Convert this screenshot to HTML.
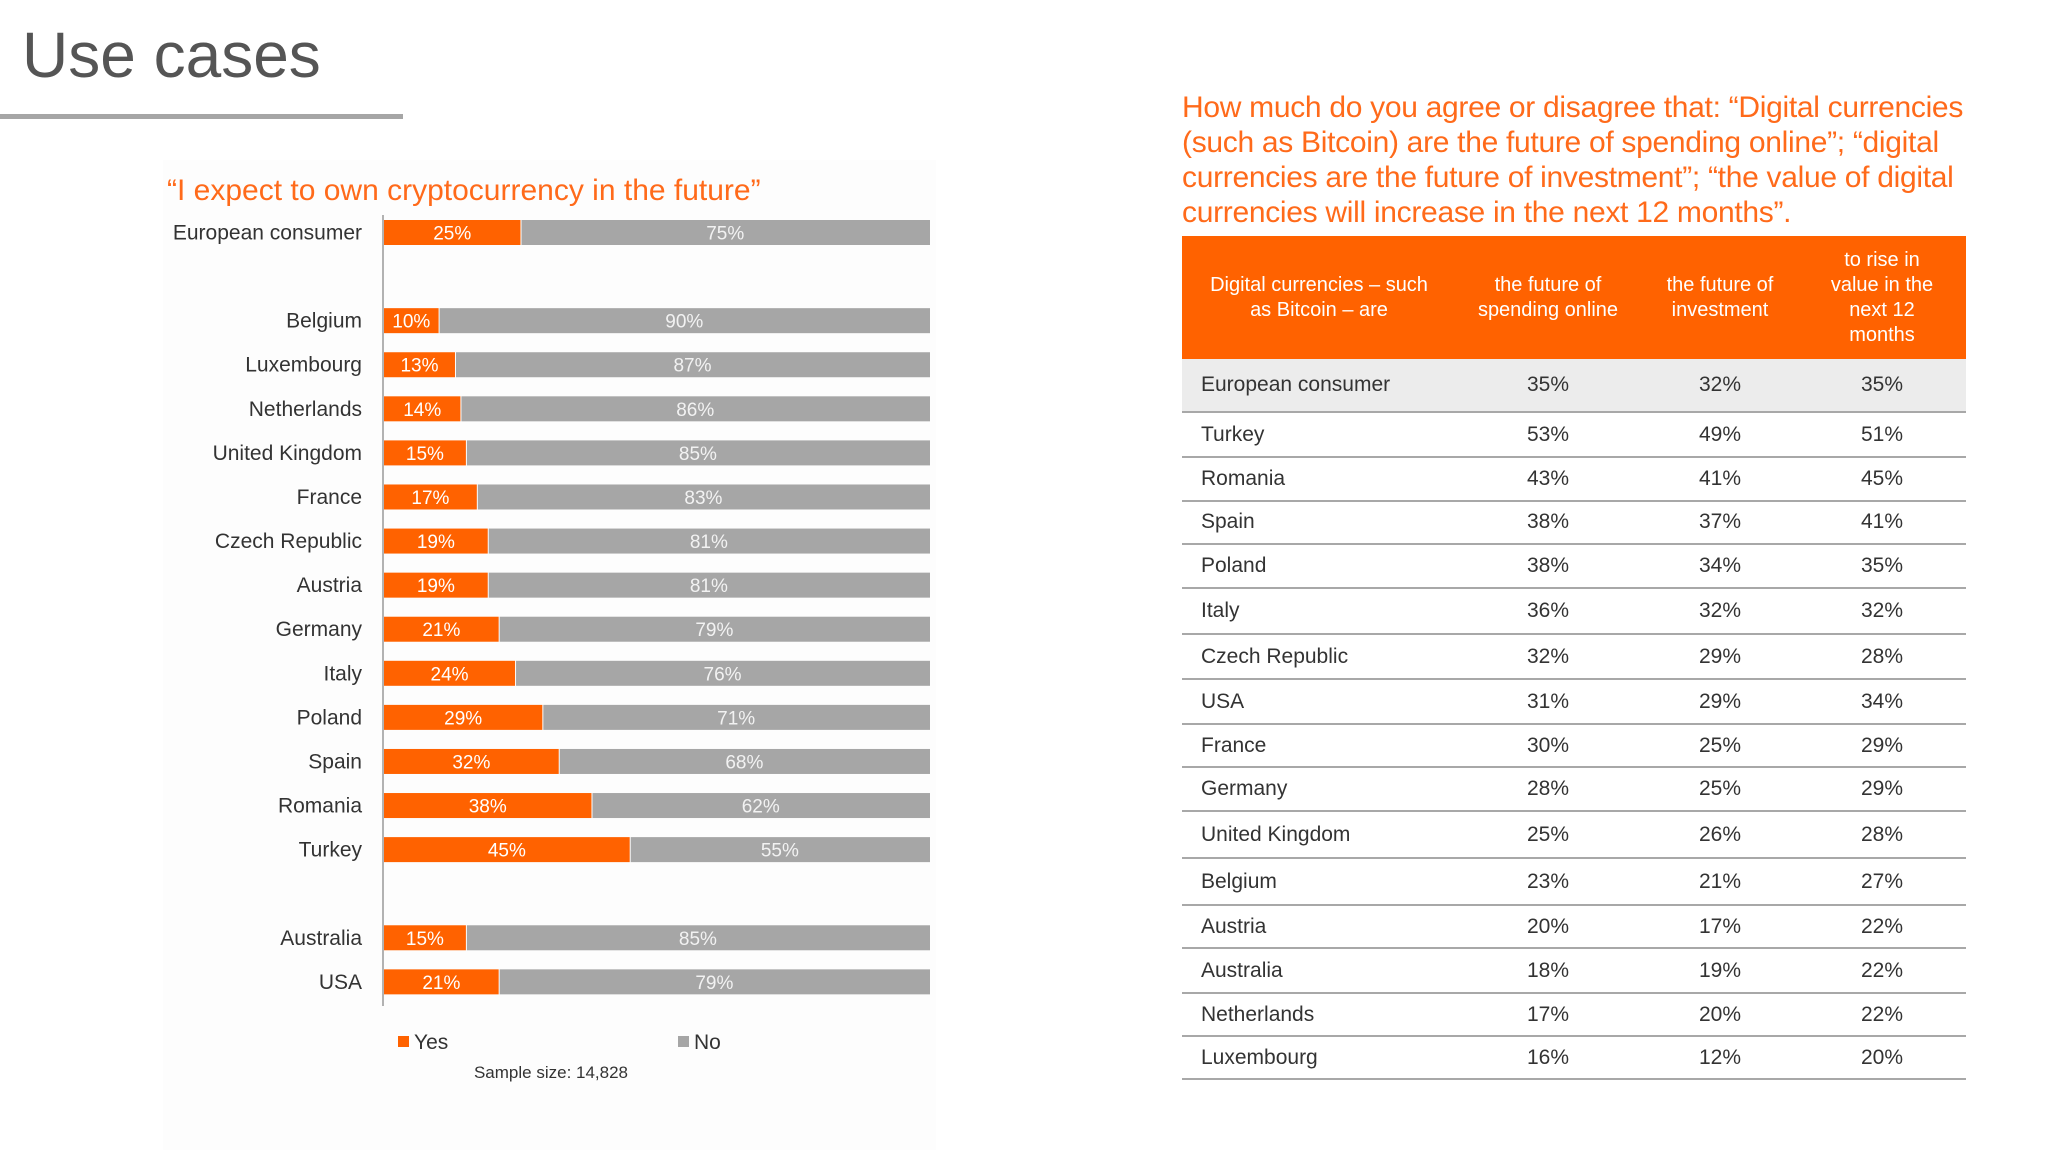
<!DOCTYPE html>
<html><head><meta charset="utf-8"><style>
body{margin:0;width:2048px;height:1152px;background:#fff;position:relative;overflow:hidden;font-family:"Liberation Sans Narrow","Liberation Sans",sans-serif;}
.abs{position:absolute;}
#tbl{position:absolute;left:1182px;top:236px;width:784px;}
.hdr{position:absolute;left:0;top:0;width:784px;height:123px;background:#ff6200;}
.hc{position:absolute;top:0;height:123px;display:flex;align-items:center;justify-content:center;text-align:center;color:#fff;font-size:20px;line-height:25px;}
.row{position:absolute;left:0;width:784px;border-bottom:2px solid #a8a8a8;box-sizing:border-box;font-size:21px;color:#333;}
.row span{position:absolute;top:50%;transform:translateY(-50%);}
</style></head><body>
<div class="abs" style="left:22px;top:18px;font-size:64px;color:#555;font-family:'Liberation Sans',sans-serif;">Use cases</div>
<div class="abs" style="left:0;top:114px;width:403px;height:5px;background:#a6a6a6;"></div>
<div class="abs" style="left:163px;top:160px;width:773px;height:990px;background:#fdfdfd;"></div>
<svg class="abs" style="left:0;top:0" width="2048" height="1152">
<text x="167" y="200" font-size="30" fill="#ff6a1a" font-family="Liberation Sans Narrow, Liberation Sans, sans-serif">“I expect to own cryptocurrency in the future”</text>
<g id="bars"></g>
<rect x="398" y="1036" width="11" height="11" fill="#ff6200"/>
<text x="414" y="1049" font-size="21" fill="#333">Yes</text>
<rect x="678" y="1036" width="11" height="11" fill="#a6a6a6"/>
<text x="694" y="1049" font-size="21" fill="#333">No</text>
<text x="551" y="1078" font-size="17" fill="#333" text-anchor="middle">Sample size: 14,828</text>
</svg>
<div class="abs" style="left:1182px;top:90px;width:820px;font-size:30px;line-height:35px;color:#ff6a1a;letter-spacing:-0.3px;">How much do you agree or disagree that: “Digital currencies (such as Bitcoin) are the future of spending online”; “digital currencies are the future of investment”; “the value of digital currencies will increase in the next 12 months”.</div>
<div id="tbl">
<div class="hdr">
<div class="hc" style="left:0;width:274px;">Digital currencies – such<br>as Bitcoin – are</div>
<div class="hc" style="left:290px;width:152px;">the future of<br>spending online</div>
<div class="hc" style="left:465px;width:146px;">the future of<br>investment</div>
<div class="hc" style="left:635px;width:130px;">to rise in<br>value in the<br>next 12<br>months</div>
</div>
</div>
<script>
const categories=["European consumer","","Belgium","Luxembourg","Netherlands","United Kingdom","France","Czech Republic","Austria","Germany","Italy","Poland","Spain","Romania","Turkey","","Australia","USA"];
const yesValues=[25,null,10,13,14,15,17,19,19,21,24,29,32,38,45,null,15,21];
const noValues=[75,null,90,87,86,85,83,81,81,79,76,71,68,62,55,null,85,79];
const x0=384,x1=930;
function xs(v){return x0+(x1-x0)*v/100;}
function ys(i){return 232.5+i*44.08;}
const NS="http://www.w3.org/2000/svg";
const g=document.getElementById('bars');
function mk(t,a){const e=document.createElementNS(NS,t);for(const k in a)e.setAttribute(k,a[k]);g.appendChild(e);return e;}
const ax=mk('line',{x1:383,x2:383,y1:215,y2:1006,stroke:'#999','stroke-width':1.5});


categories.forEach((c,i)=>{
 if(yesValues[i]==null)return;
 const y=ys(i);
 const lb=mk('text',{x:362,y:y+7,'font-size':21,fill:'#333','text-anchor':'end'});lb.textContent=c;
 
 
 const ya=yesValues[i],na=noValues[i];
 const r1=mk('rect',{x:xs(0),y:y-12.5,width:xs(ya)-xs(0),height:25,fill:'#ff6200'});
 
 
 const r2=mk('rect',{x:xs(ya)+1,y:y-12.5,width:xs(ya+na)-xs(ya)-1,height:25,fill:'#a6a6a6'});
 
 
 const t1=mk('text',{x:(xs(0)+xs(ya))/2,y:y+7,'font-size':19,fill:'#fff','text-anchor':'middle'});t1.textContent=ya+'%';
 
 
 const t2=mk('text',{x:(xs(ya)+xs(ya+na))/2,y:y+7,'font-size':19,fill:'#f2f2f2','text-anchor':'middle'});t2.textContent=na+'%';
 
 
});
const rowNames=["European consumer","Turkey","Romania","Spain","Poland","Italy","Czech Republic","USA","France","Germany","United Kingdom","Belgium","Austria","Australia","Netherlands","Luxembourg"];
const colSpending=[35,53,43,38,38,36,32,31,30,28,25,23,20,18,17,16];
const colInvestment=[32,49,41,37,34,32,29,29,25,25,26,21,17,19,20,12];
const colRise=[35,51,45,41,35,32,28,34,29,29,28,27,22,22,22,20];
const bounds=[359,413,458,501.5,545,589,635,680,725,768,812,859,906,949,994,1037,1080];
const tbl=document.getElementById('tbl');
rowNames.forEach((n,i)=>{
 const r=document.createElement('div');r.className='row';
 
 
 r.style.top=(bounds[i]-236)+'px';r.style.height=(bounds[i+1]-bounds[i])+'px';
 if(i==0)r.style.background='#ececec';
 r.innerHTML='<span style="left:19px">'+n+'</span><span style="left:366px;transform:translate(-50%,-50%)">'+colSpending[i]+'%</span><span style="left:538px;transform:translate(-50%,-50%)">'+colInvestment[i]+'%</span><span style="left:700px;transform:translate(-50%,-50%)">'+colRise[i]+'%</span>';
 tbl.appendChild(r);
});
</script>
</body></html>
